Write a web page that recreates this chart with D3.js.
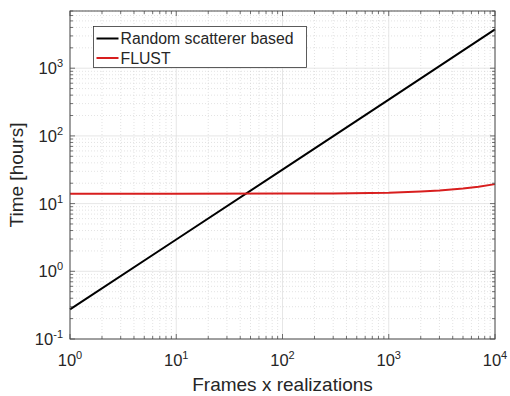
<!DOCTYPE html>
<html>
<head>
<meta charset="utf-8">
<script src="https://cdn.jsdelivr.net/npm/d3@7"></script>
<style>
  body { margin: 0; background: #fff; }
  text { font-family: "Liberation Sans", Arial, sans-serif; fill: #262626; }
</style>
</head>
<body>
<div id="chart"></div>
<script>
// frames x realizations where values were read
const scatterN = [1, 10, 100, 1000, 10000];
const scatterTime = [0.274, 2.95, 31.8, 344, 3750];

const flustN = [1, 10, 100, 300, 1000, 2000, 3000, 5000, 7000, 10000];
const flustTime = [14.0, 14.0, 14.05, 14.15, 14.5, 15.1, 15.6, 16.7, 17.8, 19.4];

const seriesNames = ["Random scatterer based", "FLUST"];
const seriesColors = ["#000000", "#d81e1e"];

const xTickExp = [0, 1, 2, 3, 4];
const yTickExp = [-1, 0, 1, 2, 3];

const W = 510, H = 396;
const margin = {top: 11, right: 15, bottom: 57, left: 70};
const width = W - margin.left - margin.right,
      height = H - margin.top - margin.bottom;

const svg = d3.select("#chart").append("svg")
    .attr("width", W).attr("height", H);

const g = svg.append("g")
    .attr("transform", "translate(" + margin.left + "," + margin.top + ")");

const x = d3.scaleLog().domain([1, 1e4]).range([0, width]);
const y = d3.scaleLog().domain([0.1, 7000]).range([height, 0]);

// major + minor tick values
const xMinor = [], yMinor = [];
for (let e = 0; e < 4; e++) for (let k = 2; k <= 9; k++) xMinor.push(k * Math.pow(10, e));
for (let e = -1; e < 4; e++) for (let k = 2; k <= 9; k++) {
  const v = k * Math.pow(10, e);
  if (v <= 7000) yMinor.push(v);
}
const xMajor = xTickExp.map(e => Math.pow(10, e));
const yMajor = yTickExp.map(e => Math.pow(10, e));

// grid
const grid = g.append("g");
grid.selectAll(".xminor").data(xMinor).enter().append("line")
    .attr("x1", d => x(d)).attr("x2", d => x(d)).attr("y1", 0).attr("y2", height)
    .attr("stroke", "#d0d0d0").attr("stroke-width", 0.6).attr("stroke-dasharray", "1,2");
grid.selectAll(".yminor").data(yMinor).enter().append("line")
    .attr("y1", d => y(d)).attr("y2", d => y(d)).attr("x1", 0).attr("x2", width)
    .attr("stroke", "#d0d0d0").attr("stroke-width", 0.6).attr("stroke-dasharray", "1,2");
grid.selectAll(".xmajor").data(xMajor).enter().append("line")
    .attr("x1", d => x(d)).attr("x2", d => x(d)).attr("y1", 0).attr("y2", height)
    .attr("stroke", "#e0e0e0").attr("stroke-width", 0.8);
grid.selectAll(".ymajor").data(yMajor).enter().append("line")
    .attr("y1", d => y(d)).attr("y2", d => y(d)).attr("x1", 0).attr("x2", width)
    .attr("stroke", "#e0e0e0").attr("stroke-width", 0.8);

// lines
const line = d3.line().x(d => x(d[0])).y(d => y(d[1]));
const series = [
  d3.zip(scatterN, scatterTime),
  d3.zip(flustN, flustTime)
];
series.forEach((s, i) => {
  g.append("path").datum(s)
    .attr("fill", "none")
    .attr("stroke", seriesColors[i])
    .attr("stroke-width", 2)
    .attr("d", line);
});

// box + inward ticks on all sides
const axisColor = "#4d4d4d";
g.append("rect").attr("width", width).attr("height", height)
    .attr("fill", "none").attr("stroke", axisColor).attr("stroke-width", 1);

const ticks = g.append("g").attr("stroke", axisColor).attr("stroke-width", 0.8);
function xTicks(vals, len) {
  vals.forEach(v => {
    ticks.append("line").attr("x1", x(v)).attr("x2", x(v)).attr("y1", height).attr("y2", height - len);
    ticks.append("line").attr("x1", x(v)).attr("x2", x(v)).attr("y1", 0).attr("y2", len);
  });
}
function yTicks(vals, len) {
  vals.forEach(v => {
    ticks.append("line").attr("y1", y(v)).attr("y2", y(v)).attr("x1", 0).attr("x2", len);
    ticks.append("line").attr("y1", y(v)).attr("y2", y(v)).attr("x1", width).attr("x2", width - len);
  });
}
xTicks(xMajor, 5); xTicks(xMinor, 3);
yTicks(yMajor, 5); yTicks(yMinor, 3);

// tick labels 10^e
function powLabel(sel, e) {
  sel.append("tspan").text("10");
  sel.append("tspan").attr("dy", -7).attr("font-size", 11).text(String(e));
}
xTickExp.forEach(e => {
  const t = g.append("text")
      .attr("x", x(Math.pow(10, e)))
      .attr("y", height + 27)
      .attr("text-anchor", "middle")
      .attr("font-size", 16.5);
  powLabel(t, e);
});
yTickExp.forEach(e => {
  const t = g.append("text")
      .attr("x", -7)
      .attr("y", y(Math.pow(10, e)) + 6)
      .attr("text-anchor", "end")
      .attr("font-size", 16.5);
  powLabel(t, e);
});

// axis titles
g.append("text")
    .attr("x", width / 2).attr("y", height + 52)
    .attr("text-anchor", "middle").attr("font-size", 19)
    .text("Frames x realizations");
svg.append("text")
    .attr("transform", "translate(23," + (margin.top + height / 2) + ") rotate(-90)")
    .attr("text-anchor", "middle").attr("font-size", 19)
    .text("Time [hours]");

// legend
const legend = svg.append("g").attr("transform", "translate(93.5,26.5)");
legend.append("rect").attr("width", 213).attr("height", 41)
    .attr("fill", "#fff").attr("stroke", "#333").attr("stroke-width", 0.8);
seriesNames.forEach((name, i) => {
  const ly = 12 + i * 19.5;
  legend.append("line").attr("x1", 3).attr("x2", 25).attr("y1", ly).attr("y2", ly)
      .attr("stroke", seriesColors[i]).attr("stroke-width", 2);
  legend.append("text").attr("x", 27).attr("y", ly + 5.5)
      .attr("font-size", 15.8).text(name);
});
</script>
</body>
</html>
